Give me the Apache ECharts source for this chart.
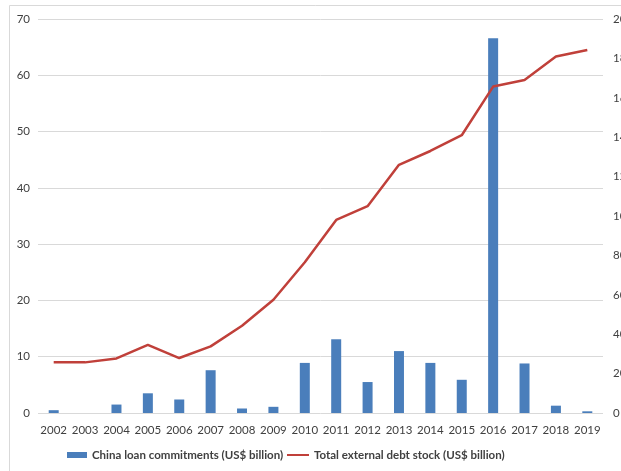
<!DOCTYPE html>
<html>
<head>
<meta charset="utf-8">
<script src="https://cdn.jsdelivr.net/npm/echarts@6/dist/echarts.min.js"></script>
<style>
html,body{margin:0;padding:0;background:#fff;}
#chart{width:621px;height:471px;}
</style>
</head>
<body>
<div id="chart"></div>
<script>
const years = ['2002','2003','2004','2005','2006','2007','2008','2009','2010','2011','2012','2013','2014','2015','2016','2017','2018','2019'];
const chinaLoans = [0.5, 0, 1.5, 3.5, 2.4, 7.6, 0.8, 1.1, 8.9, 13.1, 5.5, 11.0, 8.9, 5.9, 66.6, 8.8, 1.3, 0.3];
const externalDebt = [25.7, 25.7, 27.7, 34.6, 27.9, 33.8, 44.3, 57.5, 76.5, 98, 105, 126, 133, 141, 165.7, 169, 181, 184.3];
const leftTicks = {min: 0, max: 70, interval: 10};
const rightTicks = {min: 0, max: 200, interval: 20};
const seriesNames = ['China loan commitments (US$ billion)', 'Total external debt stock (US$ billion)'];

const font = 'Lato, "Open Sans", sans-serif';
const chart = echarts.init(document.getElementById('chart'), null, {renderer: 'canvas'});
chart.setOption({
  animation: false,
  backgroundColor: '#fff',
  graphic: [{
    type: 'rect',
    shape: {x: 9.5, y: 5.5, width: 700, height: 600},
    style: {fill: 'none', stroke: '#d9d9d9', lineWidth: 1},
    silent: true, z: -1
  }],
  grid: {left: 38, right: 18, top: 19, bottom: 58, outerBoundsMode: 'none', containLabel: false},
  legend: [{
    data: [seriesNames[0]],
    left: 62, top: 444,
    icon: 'rect', itemWidth: 20, itemHeight: 6,
    textStyle: {fontFamily: font, fontSize: 11.5, fontWeight: 'bold', color: '#404040'}
  }, {
    data: [seriesNames[1]],
    left: 282, top: 444,
    icon: 'rect', itemWidth: 22, itemHeight: 2,
    textStyle: {fontFamily: font, fontSize: 11.5, fontWeight: 'bold', color: '#404040'}
  }],
  xAxis: {
    type: 'category', data: years,
    axisLine: {show: false}, axisTick: {show: false},
    axisLabel: {color: '#404040', fontFamily: font, fontSize: 11.5, margin: 11, interval: 0}
  },
  yAxis: [{
    type: 'value', min: leftTicks.min, max: leftTicks.max, interval: leftTicks.interval,
    axisLine: {show: false}, axisTick: {show: false},
    splitLine: {lineStyle: {color: '#d9d9d9', width: 1}},
    axisLabel: {color: '#404040', fontFamily: font, fontSize: 11.5, margin: 8}
  }, {
    type: 'value', min: rightTicks.min, max: rightTicks.max, interval: rightTicks.interval,
    axisLine: {show: false}, axisTick: {show: false},
    splitLine: {show: false},
    axisLabel: {color: '#404040', fontFamily: font, fontSize: 11.5, margin: 10}
  }],
  series: [{
    name: seriesNames[0], type: 'bar', data: chinaLoans, yAxisIndex: 0,
    barWidth: 10, itemStyle: {color: '#4a7ebb'}
  }, {
    name: seriesNames[1], type: 'line', data: externalDebt, yAxisIndex: 1,
    symbol: 'none', lineStyle: {color: '#c0403a', width: 2.5}, itemStyle: {color: '#c0403a'}
  }]
});
</script>
</body>
</html>
